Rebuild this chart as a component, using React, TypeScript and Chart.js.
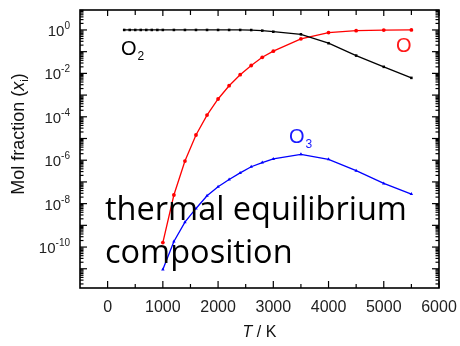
import React, { useEffect, useRef } from "react";
import { Chart, registerables } from "chart.js";
Chart.register(...registerables);

// Temperatures (K) and mole fractions
const tempO2 = [300, 400, 500, 600, 700, 800, 900, 1000, 1200, 1400, 1600, 1800, 2000, 2200, 2400, 2600, 2800, 3000, 3500, 4000, 4500, 5000, 5500];
const fracO2 = [1, 1, 1, 1, 1, 1, 1, 1, 1, 1, 1, 1, 1, 1, 1, 0.99, 0.93, 0.83, 0.63, 0.245, 0.066, 0.02, 0.0062];

const tempO = [1000, 1200, 1400, 1600, 1800, 2000, 2200, 2400, 2600, 2800, 3000, 3500, 4000, 4500, 5000, 5500];
const fracO = [1.6e-10, 2.5e-8, 9.1e-7, 1.45e-5, 1.2e-4, 6.6e-4, 2.7e-3, 8.7e-3, 0.023, 0.055, 0.105, 0.39, 0.76, 0.93, 0.99, 1.0];

const tempO3 = [1000, 1200, 1400, 1600, 1800, 2000, 2200, 2400, 2600, 2800, 3000, 3500, 4000, 4500, 5000, 5500];
const fracO3 = [9.3e-12, 1.8e-10, 1.4e-9, 6.0e-9, 2.3e-8, 6.0e-8, 1.3e-7, 2.6e-7, 5.0e-7, 7.8e-7, 1.15e-6, 1.86e-6, 1.1e-6, 3.3e-7, 8.5e-8, 2.75e-8];

const xTickValues = [0, 1000, 2000, 3000, 4000, 5000, 6000];
const yLabelExponents = [0, -2, -4, -6, -8, -10];

const SANS = '"Liberation Sans", Arial, sans-serif';

const framePlugin = {
  id: "frame",
  afterDraw(chart: any) {
    const { ctx, chartArea: a, scales } = chart;
    const x = scales.x;
    const y = scales.y;
    ctx.save();
    ctx.strokeStyle = "#000";
    ctx.lineWidth = 1.6;
    ctx.strokeRect(a.left, a.top, a.right - a.left, a.bottom - a.top);

    ctx.lineWidth = 1.2;
    const line = (x1: number, y1: number, x2: number, y2: number) => {
      ctx.beginPath();
      ctx.moveTo(x1, y1);
      ctx.lineTo(x2, y2);
      ctx.stroke();
    };
    // x ticks (inside, top & bottom)
    for (let v = 0; v <= 6000; v += 500) {
      const px = x.getPixelForValue(v);
      const major = v % 1000 === 0;
      line(px, a.bottom, px, a.bottom - (major ? 7 : 4));
      line(px, a.top, px, a.top + (major ? 6 : 5));
    }
    // y ticks (inside, left & right)
    for (let e = -13; e <= 1; e++) {
      for (let m = 1; m <= 9; m++) {
        const v = m * Math.pow(10, e);
        if (v < y.min || v > y.max) continue;
        const py = y.getPixelForValue(v);
        const len = m === 1 ? 7 : 3.5;
        line(a.left, py, a.left + len, py);
        line(a.right, py, a.right - len, py);
      }
    }

    // x tick labels
    ctx.fillStyle = "#222";
    ctx.font = `16px ${SANS}`;
    ctx.textAlign = "center";
    ctx.textBaseline = "alphabetic";
    for (const v of xTickValues) {
      ctx.fillText(String(v), x.getPixelForValue(v), a.bottom + 24);
    }

    // y tick labels 10^n
    ctx.textAlign = "left";
    for (const e of yLabelExponents) {
      const py = y.getPixelForValue(Math.pow(10, e));
      ctx.font = `15px ${SANS}`;
      const wb = ctx.measureText("10").width;
      ctx.font = `10px ${SANS}`;
      const es = String(e);
      const we = ctx.measureText(es).width;
      const sx = 70 - wb - we;
      ctx.font = `15px ${SANS}`;
      ctx.fillText("10", sx, py + 6);
      ctx.font = `10px ${SANS}`;
      ctx.fillText(es, sx + wb, py - 1);
    }

    // y axis title
    ctx.save();
    ctx.translate(24, 134);
    ctx.rotate(-Math.PI / 2);
    ctx.fillStyle = "#111";
    const segs: [string, string, number][] = [
      ["Mol fraction (", `18px ${SANS}`, 0],
      ["x", `italic 18px ${SANS}`, 0],
      ["i", `11px ${SANS}`, 4],
      [")", `18px ${SANS}`, 0],
    ];
    let tw = 0;
    for (const [t, f] of segs) { ctx.font = f; tw += ctx.measureText(t).width; }
    let cx = -tw / 2;
    for (const [t, f, dy] of segs) {
      ctx.font = f;
      ctx.fillText(t, cx, dy);
      cx += ctx.measureText(t).width;
    }
    ctx.restore();

    // x axis title
    {
      ctx.fillStyle = "#111";
      ctx.font = `italic 16px ${SANS}`;
      const w1 = ctx.measureText("T").width;
      ctx.font = `16px ${SANS}`;
      const w2 = ctx.measureText(" / K").width;
      const sx = (a.left + a.right) / 2 - (w1 + w2) / 2;
      ctx.font = `italic 16px ${SANS}`;
      ctx.fillText("T", sx, 337);
      ctx.font = `16px ${SANS}`;
      ctx.fillText(" / K", sx + w1, 337);
    }

    // species labels
    const species = (main: string, sub: string, color: string, sx: number, by: number) => {
      ctx.fillStyle = color;
      ctx.font = `20px ${SANS}`;
      ctx.fillText(main, sx, by);
      const w = ctx.measureText(main).width;
      if (sub) {
        ctx.font = `12px ${SANS}`;
        ctx.fillText(sub, sx + w + 1, by + 5);
      }
    };
    species("O", "2", "#000", 121, 55);
    species("O", "", "#ff1a1a", 396, 52);
    species("O", "3", "#1a1aff", 289, 143);

    // annotation
    ctx.fillStyle = "#000";
    ctx.font = `32.5px "Open Sans", Lato, sans-serif`;
    ctx.fillText("thermal equilibrium", 105, 220);
    ctx.fillText("composition", 105, 263);

    ctx.restore();
  },
};

export default function App() {
  const ref = useRef<HTMLCanvasElement | null>(null);
  useEffect(() => {
    const canvas = ref.current;
    if (!canvas) return;
    const toXY = (xs: number[], ys: number[]) => xs.map((t, i) => ({ x: t, y: ys[i] }));
    const chart = new Chart(canvas, {
      type: "line",
      data: {
        datasets: [
          {
            label: "O2",
            data: toXY(tempO2, fracO2),
            borderColor: "#000",
            backgroundColor: "#000",
            borderWidth: 1.3,
            pointStyle: "rect",
            pointRadius: 1.8,
            pointBorderWidth: 0,
            tension: 0,
          },
          {
            label: "O",
            data: toXY(tempO, fracO),
            borderColor: "#ff0000",
            backgroundColor: "#ff0000",
            borderWidth: 1.3,
            pointStyle: "circle",
            pointRadius: 1.9,
            pointBorderWidth: 0,
            tension: 0,
          },
          {
            label: "O3",
            data: toXY(tempO3, fracO3),
            borderColor: "#0000ff",
            backgroundColor: "#0000ff",
            borderWidth: 1.3,
            pointStyle: "triangle",
            pointRadius: 2,
            pointBorderWidth: 0,
            tension: 0,
          },
        ],
      },
      options: {
        responsive: false,
        animation: false,
        layout: { padding: { left: 80, right: 21, top: 10, bottom: 58 } },
        plugins: { legend: { display: false }, tooltip: { enabled: false } },
        scales: {
          x: { type: "linear", min: -500, max: 6000, display: false },
          y: { type: "logarithmic", min: 1.3e-12, max: 8.3, display: false },
        },
      },
      plugins: [framePlugin],
    });
    return () => chart.destroy();
  }, []);
  return (
    <canvas
      ref={ref}
      width={460}
      height={346}
      style={{ position: "fixed", left: 0, top: 0, width: 460, height: 346, background: "#fff" }}
    />
  );
}
